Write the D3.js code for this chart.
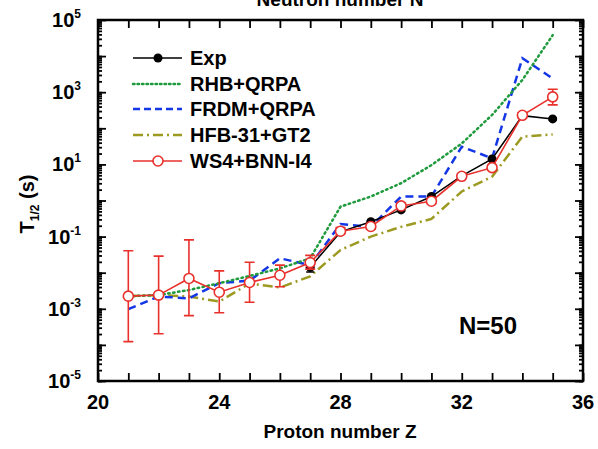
<!DOCTYPE html>
<html>
<head>
<meta charset="utf-8">
<script src="https://cdn.jsdelivr.net/npm/d3@7"></script>
<style>
  body { margin: 0; background: #fff; }
  text { font-family: "Liberation Sans", Arial, sans-serif; font-weight: bold; }
</style>
</head>
<body>
<div id="container"></div>
<script>
// Données (log10 des demi-vies en s)
const zTheo = [21, 22, 23, 24, 25, 26, 27, 28, 29, 30, 31, 32, 33, 34, 35];
const zExp = [27, 28, 29, 30, 31, 32, 33, 34, 35];

const expLog = [-1.85, -0.87, -0.59, -0.26, 0.11, 0.68, 1.15, 2.35, 2.26];
const expErrLo = [-1.98, -0.92, -0.62, -0.29, 0.08, 0.65, 1.12, 2.32, 2.23];
const expErrHi = [-1.75, -0.82, -0.56, -0.23, 0.14, 0.71, 1.18, 2.38, 2.29];

const rhbLog = [-2.65, -2.62, -2.48, -2.29, -2.09, -1.88, -1.60, -0.17, 0.11, 0.48, 0.98, 1.58, 2.37, 3.34, 4.58];
const frdmLog = [-3.01, -2.66, -2.71, -2.29, -2.22, -1.60, -1.79, -0.65, -0.73, 0.11, 0.11, 1.49, 1.17, 3.94, 3.38];
const hfbLog = [-2.65, -2.62, -2.66, -2.80, -2.30, -2.41, -2.10, -1.37, -1.00, -0.73, -0.51, 0.25, 0.66, 1.77, 1.83];

const ws4Log = [-2.65, -2.62, -2.16, -2.54, -2.27, -2.07, -1.72, -0.85, -0.72, -0.15, -0.02, 0.67, 0.91, 2.36, 2.87];
const ws4ErrLo = [-3.91, -3.69, -3.19, -3.11, -2.82, -2.39, -1.90, -0.93, -0.79, -0.22, -0.09, 0.61, 0.84, 2.29, 2.65];
const ws4ErrHi = [-1.39, -1.54, -1.09, -1.95, -1.71, -1.79, -1.52, -0.75, -0.65, -0.08, 0.05, 0.73, 0.98, 2.43, 3.08];

const xTickLabels = [20, 24, 28, 32, 36];
const yTickExps = [-5, -3, -1, 1, 3, 5];

const legendNames = ["Exp", "RHB+QRPA", "FRDM+QRPA", "HFB-31+GT2", "WS4+BNN-I4"];

/* Dimensions */
const width = 598, height = 449,
  mLeft = 98, mRight = 583, mTop = 20, mBottom = 381;

const red = "#e8302c", green = "#1f9a3c", blue = "#1437e6", olive = "#9d9a22";

const svg = d3.select("#container").append("svg")
  .attr("width", width)
  .attr("height", height);

const x = d3.scaleLinear().domain([20, 36]).range([mLeft, mRight]);
const y = d3.scaleLog().domain([1e-5, 1e5]).range([mBottom, mTop]);

const toPts = (zs, logs) => zs.map((z, i) => [z, Math.pow(10, logs[i])]);
const line = d3.line().x(d => x(d[0])).y(d => y(d[1]));

/* Axes avec graduations intérieures */
const minorY = [];
for (let e = -5; e < 5; e++) for (let m = 1; m < 10; m++) minorY.push(m * Math.pow(10, e));
minorY.push(1e5);
const majorY = d3.range(-5, 6).map(e => Math.pow(10, e));
const xTicks = d3.range(20, 37);

function styleAxis(g) {
  g.select(".domain").remove();
  g.selectAll("line").attr("stroke", "#000").attr("stroke-width", 1.8);
}

svg.append("g").attr("transform", `translate(0,${mBottom})`)
  .call(d3.axisTop(x).tickValues(xTicks).tickSize(8).tickFormat(""))
  .call(styleAxis);
svg.append("g").attr("transform", `translate(0,${mTop})`)
  .call(d3.axisBottom(x).tickValues(xTicks).tickSize(8).tickFormat(""))
  .call(styleAxis);

[[mLeft, d3.axisRight], [mRight, d3.axisLeft]].forEach(([px, ax]) => {
  svg.append("g").attr("transform", `translate(${px},0)`)
    .call(ax(y).tickValues(minorY).tickSize(4).tickFormat(""))
    .call(styleAxis);
  svg.append("g").attr("transform", `translate(${px},0)`)
    .call(ax(y).tickValues(majorY).tickSize(8).tickFormat(""))
    .call(styleAxis);
});

svg.append("rect")
  .attr("x", mLeft).attr("y", mTop)
  .attr("width", mRight - mLeft).attr("height", mBottom - mTop)
  .attr("fill", "none").attr("stroke", "#000").attr("stroke-width", 2.5);

/* Libellés des graduations */
svg.selectAll(".xlab").data(xTickLabels).enter().append("text")
  .attr("x", d => x(d)).attr("y", mBottom + 28)
  .attr("text-anchor", "middle").style("font-size", "20px")
  .text(d => d);

const ylab = svg.selectAll(".ylab").data(yTickExps).enter().append("text")
  .attr("x", 81).attr("y", d => y(Math.pow(10, d)) + 7)
  .attr("text-anchor", "end").style("font-size", "20px");
ylab.append("tspan").text("10");
ylab.append("tspan").attr("dy", -9).style("font-size", "12px").text(d => d);

/* Titres des axes */
svg.append("text").attr("x", 340).attr("y", 438)
  .attr("text-anchor", "middle").style("font-size", "19px")
  .text("Proton number Z");
svg.append("text").attr("x", 340).attr("y", 6)
  .attr("text-anchor", "middle").style("font-size", "19px")
  .text("Neutron number N");

const yt = svg.append("text")
  .attr("transform", "translate(34,204) rotate(-90)")
  .attr("text-anchor", "middle").style("font-size", "20px");
yt.append("tspan").text("T");
yt.append("tspan").attr("dy", 5).style("font-size", "12px").text("1/2");
yt.append("tspan").attr("dy", -5).text(" (s)");

svg.append("text").attr("x", 459).attr("y", 334)
  .style("font-size", "24px").text("N=50");

/* Courbes théoriques */
const plot = svg.append("g");
plot.append("path").datum(toPts(zTheo, hfbLog)).attr("d", line)
  .attr("fill", "none").attr("stroke", olive).attr("stroke-width", 2.5)
  .attr("stroke-dasharray", "10,4,2,4");
plot.append("path").datum(toPts(zTheo, frdmLog)).attr("d", line)
  .attr("fill", "none").attr("stroke", blue).attr("stroke-width", 2.5)
  .attr("stroke-dasharray", "8,5");
plot.append("path").datum(toPts(zTheo, rhbLog)).attr("d", line)
  .attr("fill", "none").attr("stroke", green).attr("stroke-width", 2.5)
  .attr("stroke-dasharray", "1.5,3.5").attr("stroke-linecap", "round");

/* Expérience */
plot.selectAll(".experr").data(zExp).enter().append("path")
  .attr("d", (z, i) => {
    const xx = x(z), y1 = y(Math.pow(10, expErrLo[i])), y2 = y(Math.pow(10, expErrHi[i]));
    return `M${xx},${y1}V${y2}M${xx - 4},${y1}H${xx + 4}M${xx - 4},${y2}H${xx + 4}`;
  })
  .attr("stroke", "#000").attr("stroke-width", 1.5).attr("fill", "none");
plot.append("path").datum(toPts(zExp, expLog)).attr("d", line)
  .attr("fill", "none").attr("stroke", "#000").attr("stroke-width", 1.5);
plot.selectAll(".exppt").data(toPts(zExp, expLog)).enter().append("circle")
  .attr("cx", d => x(d[0])).attr("cy", d => y(d[1])).attr("r", 4.5)
  .attr("fill", "#000");

/* WS4+BNN-I4 */
plot.selectAll(".wserr").data(zTheo).enter().append("path")
  .attr("d", (z, i) => {
    const xx = x(z), y1 = y(Math.pow(10, ws4ErrLo[i])), y2 = y(Math.pow(10, ws4ErrHi[i]));
    return `M${xx},${y1}V${y2}M${xx - 5},${y1}H${xx + 5}M${xx - 5},${y2}H${xx + 5}`;
  })
  .attr("stroke", red).attr("stroke-width", 1.6).attr("fill", "none");
plot.append("path").datum(toPts(zTheo, ws4Log)).attr("d", line)
  .attr("fill", "none").attr("stroke", red).attr("stroke-width", 1.6);
plot.selectAll(".wspt").data(toPts(zTheo, ws4Log)).enter().append("circle")
  .attr("cx", d => x(d[0])).attr("cy", d => y(d[1])).attr("r", 5)
  .attr("fill", "#fff").attr("stroke", red).attr("stroke-width", 1.6);

/* Légende */
const legend = svg.append("g");
const legRows = [58, 84, 109, 135, 161];
legendNames.forEach((name, i) => {
  const ly = legRows[i];
  const l = legend.append("line").attr("x1", 133).attr("x2", 182)
    .attr("y1", ly).attr("y2", ly).attr("fill", "none");
  if (i === 0) l.attr("stroke", "#000").attr("stroke-width", 1.5);
  if (i === 1) l.attr("stroke", green).attr("stroke-width", 2.5).attr("stroke-dasharray", "1.5,3").attr("stroke-linecap", "round");
  if (i === 2) l.attr("stroke", blue).attr("stroke-width", 2.5).attr("stroke-dasharray", "7,4");
  if (i === 3) l.attr("stroke", olive).attr("stroke-width", 2.5).attr("stroke-dasharray", "10,4,2,4");
  if (i === 4) l.attr("stroke", red).attr("stroke-width", 1.6);
  if (i === 0) legend.append("circle").attr("cx", 158).attr("cy", ly).attr("r", 4.5).attr("fill", "#000");
  if (i === 4) legend.append("circle").attr("cx", 158).attr("cy", ly).attr("r", 5)
    .attr("fill", "#fff").attr("stroke", red).attr("stroke-width", 1.6);
  legend.append("text").attr("x", 190).attr("y", ly + 7)
    .style("font-size", "20px").text(name);
});
</script>
</body>
</html>
